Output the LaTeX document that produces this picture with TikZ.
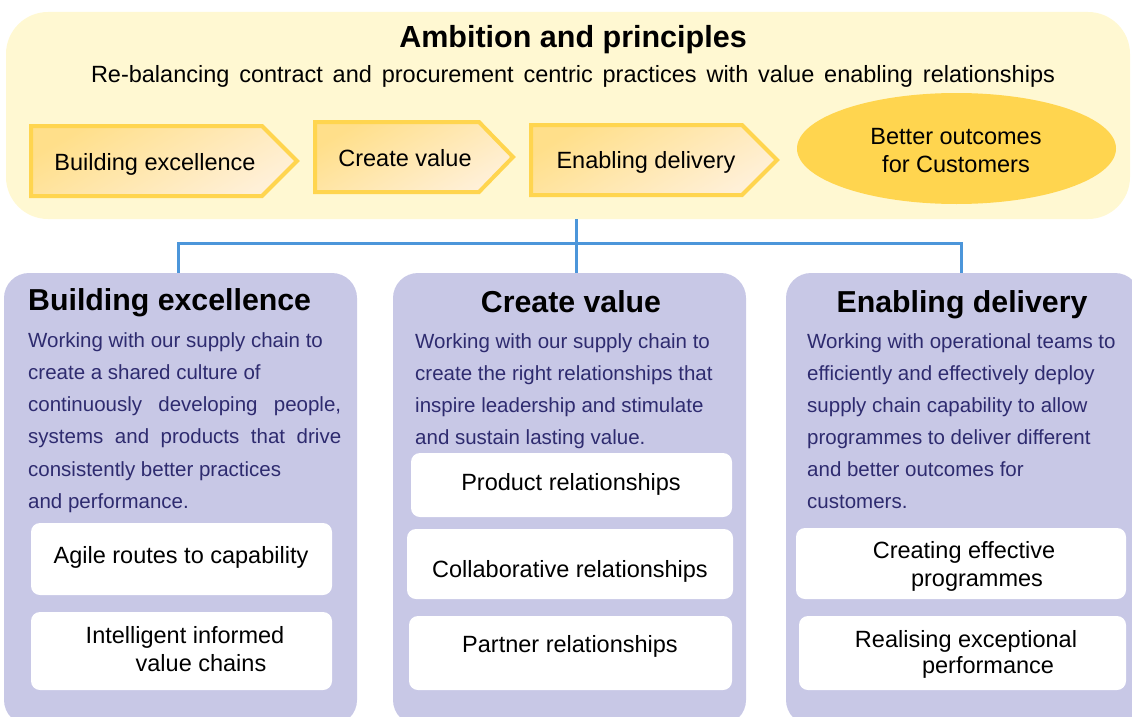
\documentclass[tikz,border=0pt]{standalone}
\usepackage{fontspec}
\setmainfont{Liberation Sans}
\usetikzlibrary{shapes.geometric}
\definecolor{ybg}{HTML}{FFF8D2}
\definecolor{ygold}{HTML}{FFD54F}
\definecolor{chevtop}{HTML}{FFDF8A}
\definecolor{chevbot}{HTML}{FFF0D8}
\definecolor{panelpurple}{HTML}{C8C8E6}
\definecolor{linkblue}{HTML}{4C96DA}
\definecolor{navy}{HTML}{2E2B6F}
\begin{document}
\begin{tikzpicture}[x=1pt,y=-1pt,
  conn/.style={draw=linkblue, line width=3pt},
  toppanel/.style={rectangle, fill=ybg, rounded corners=42pt, inner sep=0pt, minimum width=1124pt, minimum height=207pt},
  panel/.style={rectangle, fill=panelpurple, rounded corners=25pt, inner sep=0pt, minimum width=353pt, minimum height=452pt},
  wbox/.style={rectangle, fill=white, rounded corners=9pt, inner sep=0pt},
  chev/.style={top color=chevtop, bottom color=chevbot, shading angle=30},
  chevline/.style={draw=ygold, line width=4pt, line join=miter},
  txt/.style={inner sep=0pt, font=\fontsize{23.5}{28}\selectfont},
  maintitle/.style={inner sep=0pt, font=\fontsize{30.5}{36}\selectfont\bfseries},
  ptitle/.style={inner sep=0pt, font=\fontsize{30.3}{36}\selectfont\bfseries},
  body/.style={inner sep=0pt, text=navy, font=\fontsize{20.5}{32}\selectfont, anchor=base west}
]
\useasboundingbox (0,0) rectangle (1132,717);

% connectors (drawn first, panels cover their ends)
\coordinate (hub) at (576,243);
\coordinate (j1) at (178,243);
\coordinate (j3) at (961,243);
\node[toppanel] (top) at (568,115.5) {};
\node[panel] (p1) at (180.5,499) {};
\node[panel] (p2) at (569.5,499) {};
\node[panel, minimum width=354pt] (p3) at (963,499) {};
\draw[conn] (hub |- top.south) -- (hub |- p2.north);
\draw[conn] (j1 |- p1.north) -- (j1) -- (j3) -- (j3 |- p3.north);

% top panel contents
\node[maintitle, anchor=base] (ttl) at (573,48) {Ambition and principles};
\node[txt, anchor=base] (subt) at (573,82) {\makebox[964pt][s]{Re-balancing contract and procurement centric practices with value enabling relationships}};

\shade[chev] (31,126) -- (262,126) -- (297,161) -- (262,196) -- (31,196) -- cycle;
\draw[chevline] (31,126) -- (262,126) -- (297,161) -- (262,196) -- (31,196) -- cycle;
\shade[chev] (315,122) -- (479,122) -- (513,157) -- (479,192) -- (315,192) -- cycle;
\draw[chevline] (315,122) -- (479,122) -- (513,157) -- (479,192) -- (315,192) -- cycle;
\shade[chev] (531,125) -- (742,125) -- (777,160) -- (742,195) -- (531,195) -- cycle;
\draw[chevline] (531,125) -- (742,125) -- (777,160) -- (742,195) -- (531,195) -- cycle;

\node[txt, anchor=base] (c1) at (155,170) {Building excellence};
\node[txt, anchor=base] (c2) at (405,166) {Create value};
\node[txt, anchor=base] (c3) at (646,168) {Enabling delivery};

\node[ellipse, fill=ygold, inner sep=0pt, minimum width=319pt, minimum height=111pt] (outc) at (956.5,148.5) {};
\node[txt, anchor=base] (outc1) at (956,144) {Better outcomes};
\node[txt, anchor=base] (outc2) at (956,172) {for Customers};

% panel titles
\node[ptitle, anchor=base west] (p1t) at (28,310) {Building excellence};
\node[ptitle, anchor=base] (p2t) at (571,312) {Create value};
\node[ptitle, anchor=base] (p3t) at (962,312) {Enabling delivery};

% panel body texts
\foreach \t [count=\i] in {{Working with our supply chain to},{create a shared culture of},{\makebox[313pt][s]{continuously developing people,}},{\makebox[313pt][s]{systems and products that drive}},{consistently better practices},{and performance.}}
  \node[body] (p1l\i) at ({28},{347+32.3*(\i-1)}) {\t};
\foreach \t [count=\i] in {{Working with our supply chain to},{create the right relationships that},{inspire leadership and stimulate},{and sustain lasting value.}}
  \node[body] (p2l\i) at ({415},{348+32.3*(\i-1)}) {\t};
\foreach \t [count=\i] in {{Working with operational teams to},{efficiently and effectively deploy},{supply chain capability to allow},{programmes to deliver different},{and better outcomes for},{customers.}}
  \node[body] (p3l\i) at ({807},{348+32.0*(\i-1)}) {\t};

% white boxes
\node[wbox, minimum width=301pt, minimum height=72pt] (w11) at (181.5,559) {};
\node[wbox, minimum width=301pt, minimum height=78pt] (w12) at (181.5,651) {};
\node[wbox, minimum width=321pt, minimum height=64pt] (w21) at (571.5,485) {};
\node[wbox, minimum width=326pt, minimum height=70pt] (w22) at (570,564) {};
\node[wbox, minimum width=323pt, minimum height=74pt] (w23) at (570.5,653) {};
\node[wbox, minimum width=330pt, minimum height=71pt] (w31) at (961,563.5) {};
\node[wbox, minimum width=327pt, minimum height=74pt] (w32) at (962.5,653) {};

\node[txt, anchor=base] (w11t) at (181,563) {Agile routes to capability};
\node[txt, anchor=base] (w12a) at (185,643) {Intelligent informed};
\node[txt, anchor=base] (w12b) at (201,671) {value chains};
\node[txt, anchor=base] (w21t) at (571,490) {Product relationships};
\node[txt, anchor=base] (w22t) at (570,577) {Collaborative relationships};
\node[txt, anchor=base] (w23t) at (570,652) {Partner relationships};
\node[txt, anchor=base] (w31a) at (964,558) {Creating effective};
\node[txt, anchor=base] (w31b) at (977,586) {programmes};
\node[txt, anchor=base] (w32a) at (966,647) {Realising exceptional};
\node[txt, anchor=base] (w32b) at (988,673) {performance};
\end{tikzpicture}
\end{document}
